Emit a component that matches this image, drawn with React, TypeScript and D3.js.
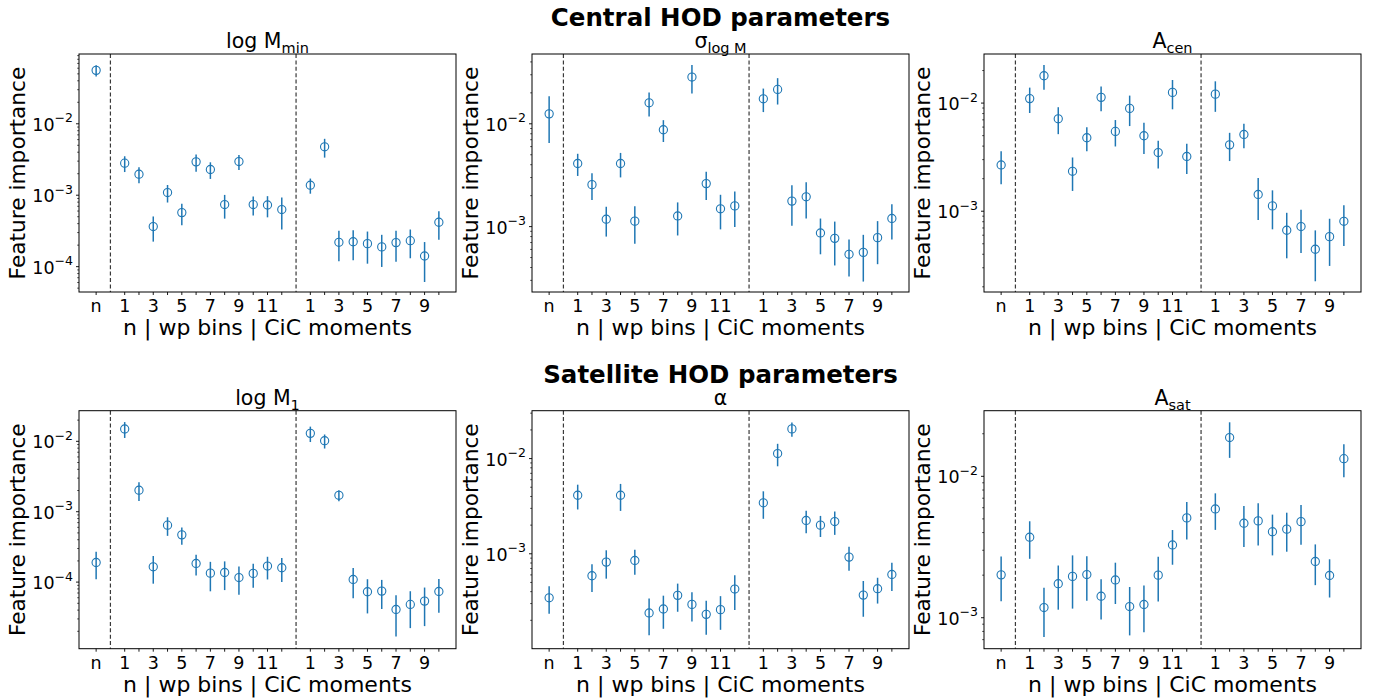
import React from "react";
import * as d3 from "d3";

// ---- data ----
const groupSizes = [1, 12, 10]; // n | wp bins | CiC moments
const tickLabels = [
  "n",
  "1", "", "3", "", "5", "", "7", "", "9", "", "11", "",
  "1", "", "3", "", "5", "", "7", "", "9", "",
];

const logMminValues = [0.056, 0.00281, 0.00197, 0.000364, 0.00109, 0.000571, 0.00293, 0.00229, 0.00074, 0.00296, 0.00074, 0.00073, 0.00063, 0.00138, 0.00476, 0.000219, 0.000223, 0.00021, 0.000189, 0.000217, 0.000231, 0.000141, 0.000418];
const logMminErrors = [0.010, 0.0007, 0.0005, 0.00014, 0.0003, 0.00019, 0.0008, 0.0006, 0.00027, 0.0007, 0.00022, 0.00024, 0.0003, 0.00033, 0.0014, 0.0001, 0.0001, 0.0001, 0.00009, 0.0001, 0.0001, 0.00008, 0.00018];

const sigmaValues = [0.0125, 0.00411, 0.00256, 0.00118, 0.00411, 0.00113, 0.016, 0.00875, 0.00127, 0.0285, 0.00262, 0.00149, 0.00159, 0.0175, 0.0216, 0.00177, 0.00195, 0.000868, 0.000769, 0.000538, 0.000562, 0.000781, 0.0012];
const sigmaErrors = [0.006, 0.001, 0.00075, 0.00038, 0.0011, 0.00045, 0.0042, 0.0021, 0.00045, 0.0088, 0.0008, 0.00055, 0.0006, 0.0045, 0.0062, 0.00075, 0.00075, 0.00033, 0.00035, 0.00021, 0.00027, 0.00035, 0.00045];

const AcenValues = [0.00268, 0.0110, 0.0179, 0.00716, 0.00234, 0.00478, 0.0113, 0.00547, 0.00893, 0.00499, 0.00349, 0.01256, 0.00321, 0.0121, 0.00411, 0.00513, 0.00143, 0.00112, 0.000667, 0.000721, 0.000445, 0.000582, 0.000807];
const AcenErrors = [0.0009, 0.0029, 0.0046, 0.002, 0.0008, 0.0012, 0.0029, 0.0015, 0.0028, 0.0016, 0.001, 0.0038, 0.001, 0.0038, 0.0012, 0.0013, 0.0006, 0.00044, 0.0003, 0.00031, 0.00022, 0.00027, 0.00033];

const logM1Values = [0.00019, 0.01496, 0.00202, 0.000165, 0.000644, 0.000469, 0.000184, 0.000134, 0.000137, 0.000116, 0.000133, 0.000169, 0.00016, 0.01297, 0.0102, 0.00171, 0.000109, 0.0000729, 0.0000745, 0.0000409, 0.0000482, 0.0000537, 0.0000737];
const logM1Errors = [0.00008, 0.0038, 0.0006, 0.00007, 0.00019, 0.00013, 0.00006, 0.00006, 0.00006, 0.00005, 0.00005, 0.00006, 0.00006, 0.0032, 0.0023, 0.0003, 0.00005, 0.000037, 0.000033, 0.000024, 0.000026, 0.00003, 0.000037];

const alphaValues = [0.000345, 0.00412, 0.000588, 0.000818, 0.00412, 0.000851, 0.000239, 0.000263, 0.000366, 0.000294, 0.000231, 0.000259, 0.000426, 0.00343, 0.0113, 0.0205, 0.00224, 0.002, 0.00218, 0.000923, 0.000368, 0.00043, 0.000607];
const alphaErrors = [0.00011, 0.0012, 0.00019, 0.00027, 0.0013, 0.00025, 0.0001, 0.0001, 0.00012, 0.0001, 0.00009, 0.0001, 0.00017, 0.0011, 0.003, 0.0035, 0.0006, 0.0005, 0.0006, 0.00026, 0.00015, 0.00013, 0.0002];

const AsatValues = [0.00201, 0.00371, 0.00118, 0.00174, 0.00196, 0.00202, 0.00142, 0.00185, 0.0012, 0.00124, 0.002, 0.00327, 0.00508, 0.00588, 0.0188, 0.00466, 0.00484, 0.00406, 0.00423, 0.00478, 0.0025, 0.00199, 0.01333];
const AsatErrors = [0.0007, 0.0011, 0.00045, 0.0006, 0.0008, 0.0007, 0.00045, 0.0006, 0.00045, 0.00045, 0.0007, 0.0009, 0.0015, 0.0017, 0.0053, 0.0015, 0.0016, 0.0013, 0.0013, 0.0015, 0.0008, 0.0006, 0.0035];

// log10 y-limits of each panel
const yLimits = [
  [-4.355, -1.023],
  [-3.636, -1.321],
  [-3.747, -1.546],
  [-4.946, -1.565],
  [-3.997, -1.497],
  [-3.219, -1.536],
];

const rowTitles = ["Central HOD parameters", "Satellite HOD parameters"];
const panelTitles = [
  { main: "log M", sub: "min" },
  { main: "σ", sub: "log M" },
  { main: "A", sub: "cen" },
  { main: "log M", sub: "1" },
  { main: "α", sub: "" },
  { main: "A", sub: "sat" },
];
const panelValues = [logMminValues, sigmaValues, AcenValues, logM1Values, alphaValues, AsatValues];
const panelErrors = [logMminErrors, sigmaErrors, AcenErrors, logM1Errors, alphaErrors, AsatErrors];

// ---- layout ----
const W = 1374;
const H = 698;
const colLeft = [79, 532, 984];
const rowTop = [54, 410.7];
const PW = 377;
const PH = 238;
const FONT = "DejaVu Sans";
const BLUE = "#1f77b4";

// x positions: groups separated by a gap of one unit
const xPositions: number[] = [];
const separators: number[] = [];
{
  let pos = 0;
  groupSizes.forEach((size, gi) => {
    for (let i = 0; i < size; i++) xPositions.push(pos + i);
    pos += size;
    if (gi < groupSizes.length - 1) {
      separators.push(pos);
      pos += 1;
    }
  });
}
const xMax = xPositions[xPositions.length - 1];

function Panel({ idx }: { idx: number }) {
  const col = idx % 3;
  const row = Math.floor(idx / 3);
  const left = colLeft[col];
  const top = rowTop[row];
  const values = panelValues[idx];
  const errors = panelErrors[idx];
  const [lo, hi] = yLimits[idx];

  const x = d3.scaleLinear().domain([-0.05 * xMax, 1.05 * xMax]).range([left, left + PW]);
  const y = d3.scaleLog().domain([Math.pow(10, lo), Math.pow(10, hi)]).range([top + PH, top]);

  const majors: number[] = [];
  const minors: number[] = [];
  for (let d = Math.floor(lo); d <= Math.ceil(hi); d++) {
    if (d >= lo && d <= hi) majors.push(d);
    for (let k = 2; k <= 9; k++) {
      const v = Math.log10(k) + d;
      if (v >= lo && v <= hi) minors.push(k * Math.pow(10, d));
    }
  }

  const title = panelTitles[idx];
  const bottom = top + PH;

  return (
    <g>
      {/* dashed separators */}
      {separators.map((s, i) => (
        <line key={"sep" + i} x1={x(s)} x2={x(s)} y1={top} y2={bottom}
          stroke="#3a3a3a" strokeWidth={1.2} strokeDasharray="4,2.4" />
      ))}
      {/* error bars */}
      {values.map((v, i) => {
        const e = errors[i];
        const yl = Math.max(v - e, Math.pow(10, lo - 1));
        return (
          <line key={"e" + i} x1={x(xPositions[i])} x2={x(xPositions[i])}
            y1={y(yl)} y2={y(v + e)} stroke={BLUE} strokeWidth={1.5} />
        );
      })}
      {/* markers */}
      {values.map((v, i) => (
        <circle key={"m" + i} cx={x(xPositions[i])} cy={y(v)} r={4.1}
          fill="none" stroke={BLUE} strokeWidth={1.1} />
      ))}
      {/* frame */}
      <rect x={left} y={top} width={PW} height={PH} fill="none" stroke="#000" strokeWidth={1} />
      {/* x ticks */}
      {xPositions.map((p, i) => (
        <g key={"xt" + i}>
          <line x1={x(p)} x2={x(p)} y1={bottom} y2={bottom + 3} stroke="#000" strokeWidth={0.9} />
          {tickLabels[i] && (
            <text x={x(p)} y={bottom + 20} textAnchor="middle" fontFamily={FONT} fontSize={17.5} fill="#000">
              {tickLabels[i]}
            </text>
          )}
        </g>
      ))}
      {/* y ticks */}
      {minors.map((m, i) => (
        <line key={"ym" + i} x1={left - 1.8} x2={left} y1={y(m)} y2={y(m)} stroke="#000" strokeWidth={0.7} />
      ))}
      {majors.map((d, i) => (
        <g key={"yM" + i}>
          <line x1={left - 3} x2={left} y1={y(Math.pow(10, d))} y2={y(Math.pow(10, d))} stroke="#000" strokeWidth={0.9} />
          <text x={left - 6} y={y(Math.pow(10, d)) + 7} textAnchor="end" fontFamily={FONT} fontSize={17.5} fill="#000">
            <tspan>10</tspan>
            <tspan dy={-8.5} fontSize={12.5}>{"−" + Math.abs(d)}</tspan>
          </text>
        </g>
      ))}
      {/* titles and labels */}
      <text x={left + PW / 2} y={top - 6} textAnchor="middle" fontFamily={FONT} fontSize={20.5} fill="#000">
        <tspan>{title.main}</tspan>
        {title.sub && <tspan dy={5} fontSize={14.5}>{title.sub}</tspan>}
      </text>
      <text x={left + PW / 2} y={bottom + 43} textAnchor="middle" fontFamily={FONT} fontSize={22} fill="#000">
        n | wp bins | CiC moments
      </text>
      <text transform={`translate(${left - 54},${top + PH / 2}) rotate(-90)`} textAnchor="middle"
        fontFamily={FONT} fontSize={21.7} fill="#000">
        Feature importance
      </text>
    </g>
  );
}

export default function App() {
  return (
    <svg width={W} height={H} viewBox={`0 0 ${W} ${H}`}
      style={{ position: "absolute", left: 0, top: 0, background: "#fff" }}>
      <rect width={W} height={H} fill="#fff" />
      {rowTitles.map((t, r) => (
        <text key={t} x={colLeft[1] + PW / 2} y={rowTop[r] - 28} textAnchor="middle"
          fontFamily={FONT} fontWeight="bold" fontSize={24.5} fill="#000">
          {t}
        </text>
      ))}
      {panelValues.map((_, i) => (
        <Panel key={i} idx={i} />
      ))}
    </svg>
  );
}
